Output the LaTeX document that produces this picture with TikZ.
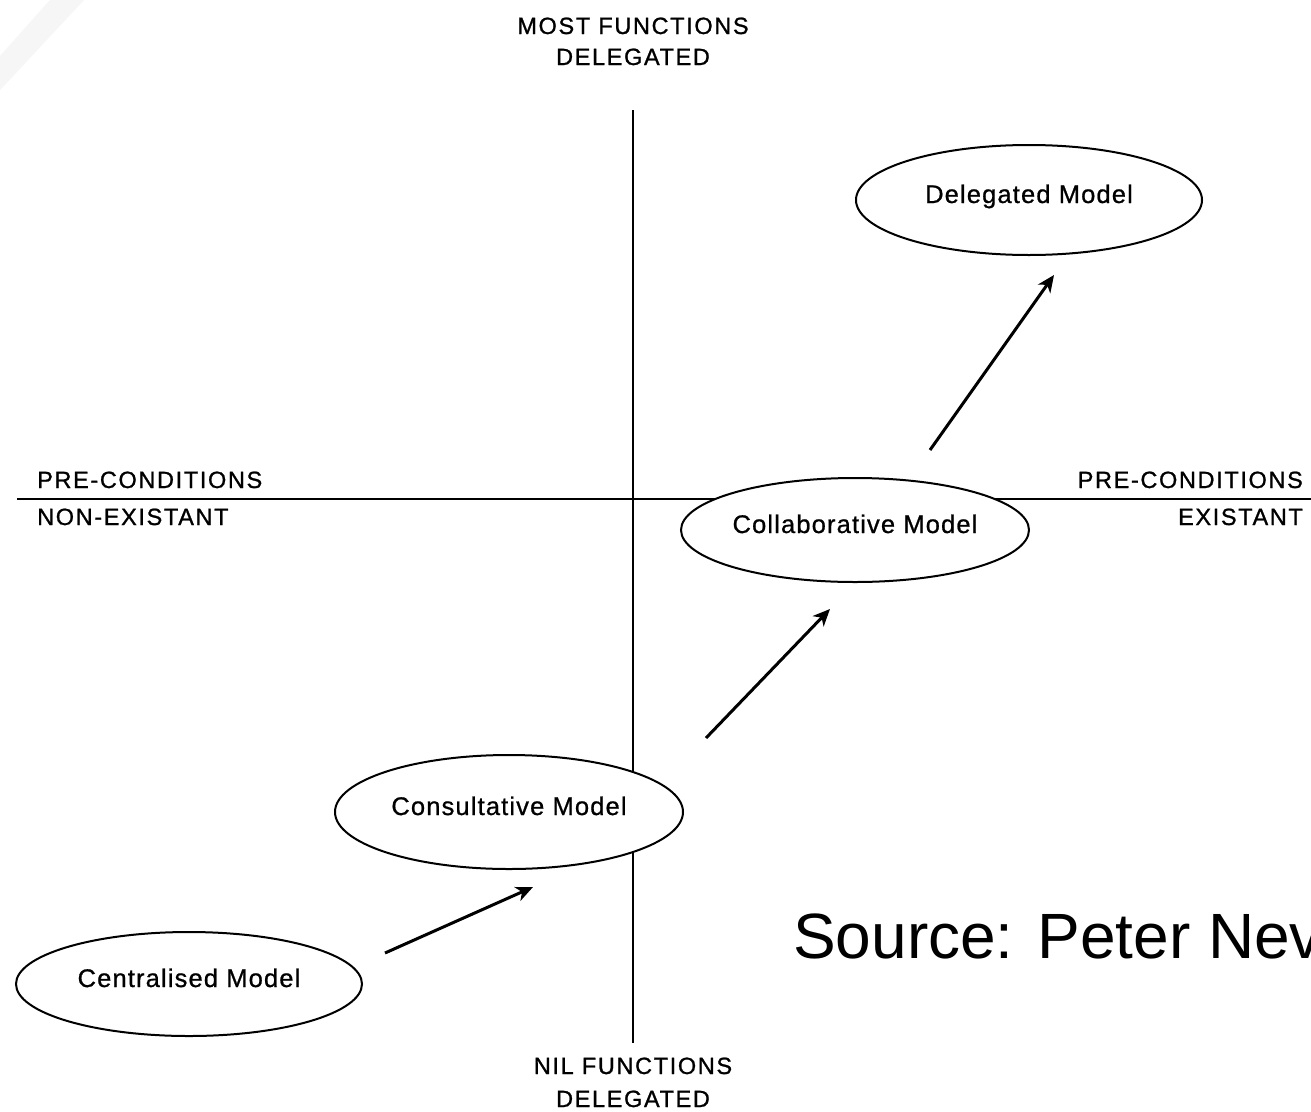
\documentclass[tikz,border=0pt]{standalone}
\usepackage{fontspec}
\setmainfont{Liberation Sans}
\newfontfamily\axisfont[LetterSpace=7,FakeBold=1]{Liberation Sans}
\newfontfamily\ellfont[LetterSpace=4.5,FakeBold=0.8]{Liberation Sans}
\usetikzlibrary{arrows.meta,shapes.geometric}
\tikzset{
  model/.style={draw=black, line width=2pt, ellipse, inner sep=0pt,
    text height=18pt, text depth=12pt,
    font=\ellfont\fontsize{25.5}{30}\selectfont},
  axis/.style={line width=2.5pt, black},
  axlabel/.style={anchor=base, inner sep=0pt, font=\axisfont\fontsize{23.5}{28}\selectfont},
  flow/.style={line width=3pt, -{Stealth[length=17pt,width=15pt,inset=5pt]}},
}
\begin{document}
\begin{tikzpicture}[x=1pt,y=-1pt]
\clip (0,0) rectangle (1311,1111);
\fill[white] (0,0) rectangle (1311,1111);
% faint watermark
\fill[gray!7] (50,0) -- (84,0) -- (0,90) -- (0,56) -- cycle;

% axes
\coordinate (vtop) at (633,110);
\coordinate (vbot) at (633,1043);
\coordinate (hleft) at (17,499);
\coordinate (hright) at (1311,499);
\draw[axis] (vtop) -- (vbot);
\draw[axis] (hleft) -- (hright);

% axis labels
\node[axlabel] (mf) at (633,34) {MOST FUNCTIONS};
\node[axlabel] (md) at (633,65) {DELEGATED};
\node[axlabel] (nf) at (633,1074) {NIL FUNCTIONS};
\node[axlabel] (nd) at (633,1107) {DELEGATED};
\node[axlabel, anchor=base west] (pl) at (37,488) {PRE-CONDITIONS};
\node[axlabel, anchor=base west] (nl) at (37,525) {NON-EXISTANT};
\node[axlabel, anchor=base east] (pr) at (1303,488) {PRE-CONDITIONS};
\node[axlabel, anchor=base east] (er) at (1303,525) {EXISTANT};

% models
\node[model, fill=white, minimum width=346pt, minimum height=110pt] (del) at (1029,200) {Delegated Model};
\node[model, fill=white, minimum width=348pt, minimum height=104pt] (col) at (855,530) {Collaborative Model};
\node[model, fill=white, minimum width=348pt, minimum height=114pt] (con) at (509,812) {Consultative Model};
\node[model, fill=white, minimum width=346pt, minimum height=104pt] (cen) at (189,984) {Centralised Model};

% arrows
\coordinate (a1s) at (385,953);
\coordinate (a1e) at (533,887);
\coordinate (a2s) at (706,738);
\coordinate (a2e) at (830,609);
\coordinate (a3s) at (930,450);
\coordinate (a3e) at (1054,275);
\draw[flow] (a1s) -- (a1e);
\draw[flow] (a2s) -- (a2e);
\draw[flow] (a3s) -- (a3e);

% source
\node[anchor=base west, inner sep=0pt, font=\fontsize{64}{72}\selectfont] (src) at (793,958) {Source: Peter Nev};
\end{tikzpicture}
\end{document}
